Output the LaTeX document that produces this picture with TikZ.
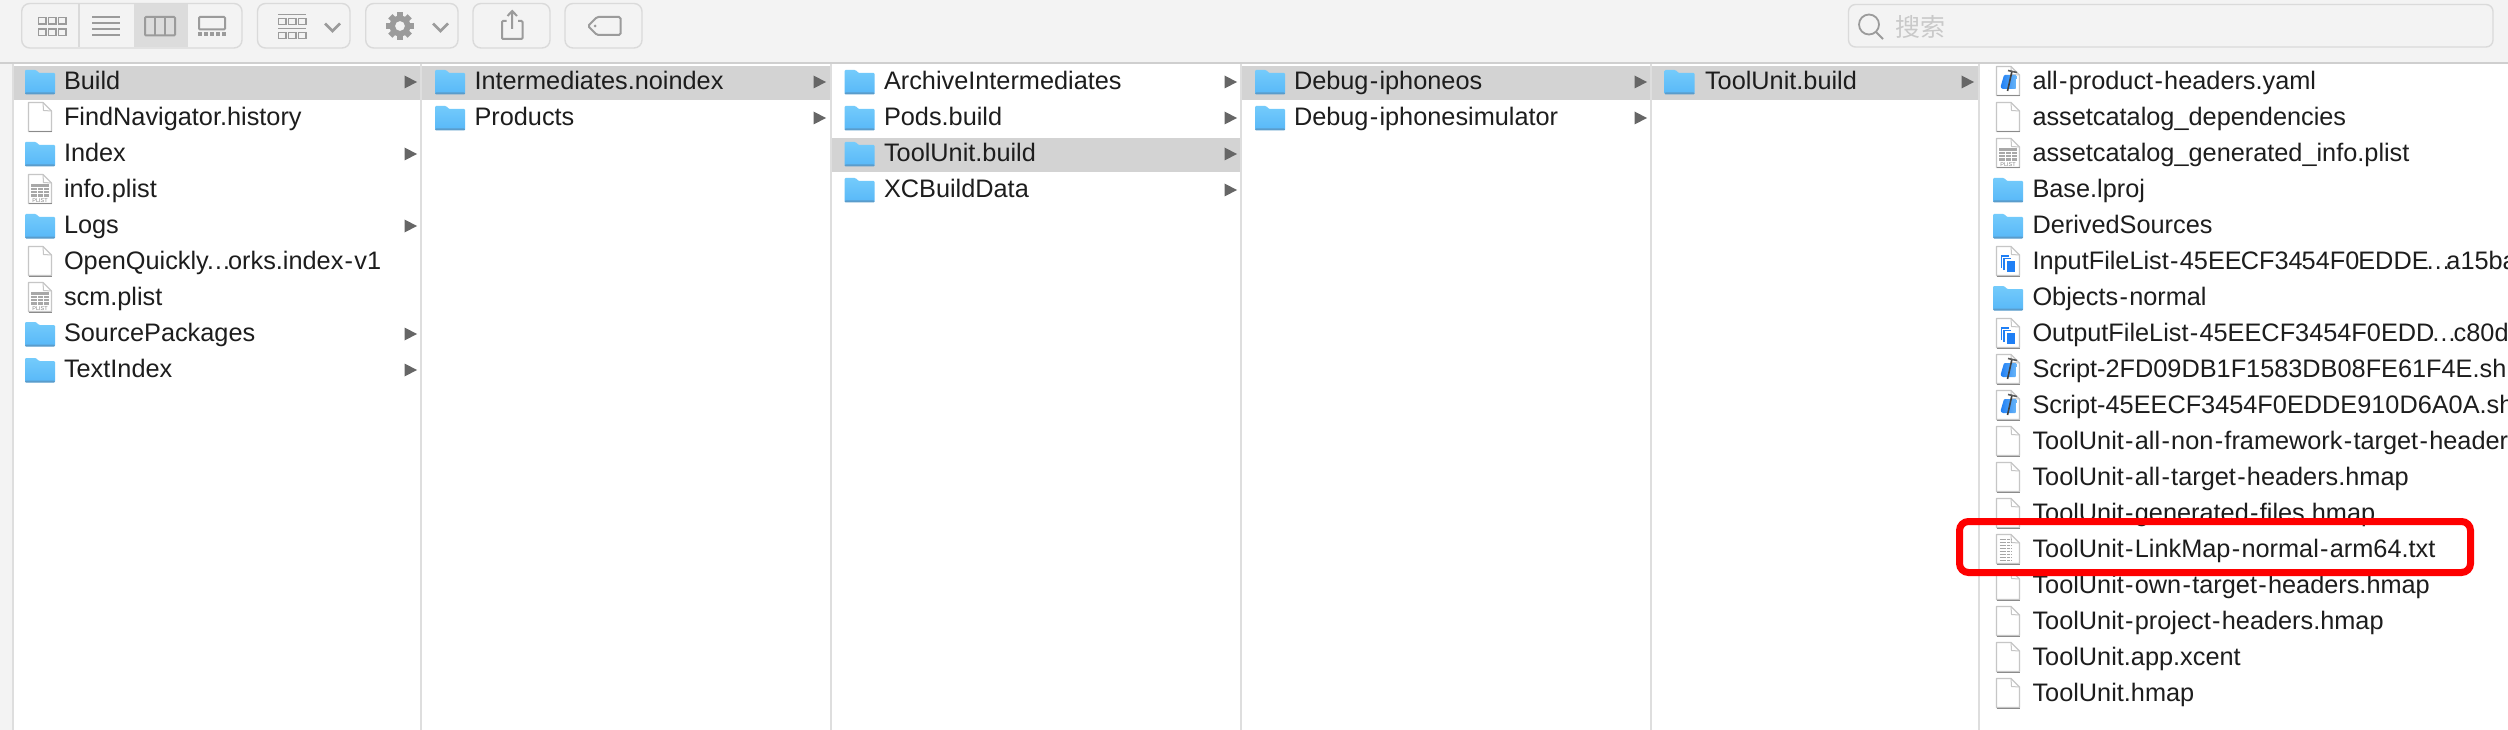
\documentclass[tikz,border=0pt]{standalone}
\usepackage{fontspec}
\setmainfont{Liberation Sans}
\newfontfamily\cjkf{Noto Sans CJK SC}
\definecolor{barbg}{HTML}{F3F3F3}
\definecolor{barline}{HTML}{CFCFCF}
\definecolor{btnline}{HTML}{DADADA}
\definecolor{seldark}{HTML}{DCDCDC}
\definecolor{icong}{HTML}{9B9B9B}
\definecolor{rowsel}{HTML}{D3D3D3}
\definecolor{colsep}{HTML}{DEDEDE}
\definecolor{txt}{HTML}{1D1D1D}
\definecolor{arr}{HTML}{666666}
\definecolor{foldtop}{HTML}{74CBFB}
\definecolor{foldbot}{HTML}{58B8F8}
\definecolor{foldedge}{HTML}{5A9CCB}
\definecolor{fileline}{HTML}{C6C6C6}
\definecolor{srchtxt}{HTML}{C9C9C9}
\definecolor{blue1}{HTML}{1F7FF5}
\definecolor{blue2}{HTML}{6DB8F8}
\definecolor{plistg}{HTML}{A8A8A8}
\definecolor{frame}{HTML}{FE0000}
\newcommand{\hy}{\kern1.3pt-\kern1.3pt}
\newcommand{\el}{\kern-3pt…\kern-3pt}
\tikzset{
  lbl/.style={anchor=base west,inner sep=0pt,outer sep=0pt,text=txt,font=\fontsize{25.3}{30}\selectfont},
  btn/.style={draw=btnline,line width=1.4pt,fill=barbg,rounded corners=8pt},
  ico/.style={draw=icong,line width=2pt,fill=none},
  icofill/.style={fill=icong,draw=none},
  sepline/.style={draw=colsep,line width=2pt},
  filebody/.style={draw=fileline,line width=1.2pt,fill=white,line join=round},
}
\newcommand{\RowY}[1]{\pgfmathsetmacro\ry{82+36*(#1)}}
\newcommand{\FolderIcon}[2]{%
  \begin{scope}[shift={(#1,#2)}]
    \path[top color=foldtop,bottom color=foldbot,rounded corners=1pt] (0,-9) -- (0,-12) -- (11,-12) -- (14,-9) -- (30,-9) -- (30,12) -- (0,12) -- cycle;
    \fill[foldedge,rounded corners=1pt] (0,10.5) rectangle (30,12.5);
  \end{scope}}
\newcommand{\FileIcon}[2]{%
  \begin{scope}[shift={(#1,#2)}]
    \path[filebody] (0.5,-15.5) -- (15,-15.5) -- (23.5,-7) -- (23.5,13.5) -- (0.5,13.5) -- cycle;
    \draw[fileline,line width=1pt] (15,-15.5) -- (15.5,-7.5) -- (23.5,-7);
    \draw[fileline!70!black,line width=1pt] (0.5,14) -- (23.5,14);
  \end{scope}}
\newcommand{\PlistMark}[2]{%
  \begin{scope}[shift={(#1,#2)}]
    \fill[plistg] (3,-6) rectangle (21,7);
    \foreach \yy in {-3,0,3}{\draw[white,line width=.8pt] (3,\yy) -- (21,\yy);}
    \draw[white,line width=.8pt] (9,-3) -- (9,7) (15,-3) -- (15,7);
    \node[inner sep=0pt,text=gray,font=\fontsize{5.5}{6}\selectfont] at (12,10.5) {PLIST};
  \end{scope}}
\newcommand{\XcodeMark}[2]{%
  \begin{scope}[shift={(#1,#2)}]
    \path[left color=blue1,right color=blue2,rounded corners=1pt] (4.5,5) -- (8,-7) -- (21,-7) -- (20,7) -- (6,7) -- cycle;
    \draw[black!75,line width=1.6pt] (11.5,9) -- (16,-11);
    \draw[black!65,line width=1.6pt] (12,-11.5) -- (21,-9.5);
  \end{scope}}
\newcommand{\ListMark}[2]{%
  \begin{scope}[shift={(#1,#2)}]
    \draw[blue1,line width=1.1pt] (5.5,6) -- (5.5,-6) -- (13,-6);
    \draw[blue1,line width=1.1pt] (8,8) -- (8,-3.5) -- (15,-3.5);
    \fill[blue1] (10.5,-1.5) rectangle (18.5,10);
  \end{scope}}
\newcommand{\TextMark}[2]{%
  \begin{scope}[shift={(#1,#2)}]
    \foreach \yy in {-11,-8,-5,-2,1,4,7,10}{\draw[gray!70,line width=.9pt,dash pattern=on 3pt off .8pt] (3.5,\yy) -- (15,\yy);}
  \end{scope}}
% #1 name, #2 icon x, #3 text x, #4 row, #5 text
\newcommand{\Fo}[5]{\RowY{#4}\FolderIcon{#2}{\ry}\node[lbl] (#1) at (#3,\ry+7.5) {#5};}
\newcommand{\Bl}[5]{\RowY{#4}\FileIcon{#2}{\ry}\node[lbl] (#1) at (#3,\ry+7.5) {#5};}
\newcommand{\Pl}[5]{\RowY{#4}\FileIcon{#2}{\ry}\PlistMark{#2}{\ry}\node[lbl] (#1) at (#3,\ry+7.5) {#5};}
\newcommand{\Xc}[5]{\RowY{#4}\FileIcon{#2}{\ry}\XcodeMark{#2}{\ry}\node[lbl] (#1) at (#3,\ry+7.5) {#5};}
\newcommand{\Fl}[5]{\RowY{#4}\FileIcon{#2}{\ry}\ListMark{#2}{\ry}\node[lbl] (#1) at (#3,\ry+7.5) {#5};}
\newcommand{\Tx}[5]{\RowY{#4}\FileIcon{#2}{\ry}\TextMark{#2}{\ry}\node[lbl] (#1) at (#3,\ry+7.5) {#5};}
\newcommand{\Ar}[2]{\RowY{#2}\fill[arr] (#1-12.5,\ry-6.5) -- (#1,\ry) -- (#1-12.5,\ry+6.5) -- cycle;}
\newcommand{\Sel}[3]{\RowY{#3}\fill[rowsel] (#1,\ry-16) rectangle (#2,\ry+18);}
\newcommand{\Chev}[1]{\draw[icong,line width=2.6pt] (#1,23.5) -- (#1+7.5,31) -- (#1+15,23.5);}
\newcommand{\MiniGrid}[3]{\foreach \xx in {0,1,2}{\draw[icong,line width=1.6pt] (#1+\xx*10,#2) rectangle ++(7.4,#3);}}
\begin{document}
\begin{tikzpicture}[x=1pt,y=-1pt]
\useasboundingbox (0,0) rectangle (2508,730);
% window
\fill[white] (0,0) rectangle (2508,730);
\fill[barbg] (0,0) rectangle (2508,63);
\fill[barbg] (0,63) rectangle (13,730);
% selected rows
\Sel{13}{421}{0}
\Sel{421}{831}{0}
\Sel{831}{1241}{2}
\Sel{1241}{1651}{0}
\Sel{1651}{1979}{0}
% column rules
\foreach \cx in {13,421,831,1241,1651,1979}{\draw[sepline] (\cx,64) -- (\cx,730);}
\draw[barline,line width=1.6pt] (0,63) -- (2508,63);
% toolbar: view switcher
\path[btn] (21.7,3.5) rectangle (242,48);
\fill[seldark] (134,4.2) rectangle (188,47.3);
\draw[btnline,line width=1.6pt] (79,4) -- (79,47.5);
\MiniGrid{38.5}{17.5}{6.5}
\MiniGrid{38.5}{29}{6.5}
\foreach \yy in {17,23,29,35}{\draw[icong,line width=1.6pt] (92,\yy) -- (120,\yy);}
\draw[ico,rounded corners=1pt] (145,17) rectangle (175,35.5);
\draw[ico] (155,17) -- (155,35.5) (165,17) -- (165,35.5);
\draw[ico,rounded corners=1pt] (199,17) rectangle (225,29.5);
\foreach \xx in {198,204,210,216,222}{\fill[icong] (\xx,32.5) rectangle ++(4,3.5);}
% toolbar: arrange
\path[btn] (257.5,3.5) rectangle (350,48);
\draw[icong,line width=1.8pt] (278,14.5) -- (306,14.5) (278,28.5) -- (306,28.5);
\MiniGrid{278.5}{18.5}{6}
\MiniGrid{278.5}{32.5}{6}
\Chev{325}
% toolbar: action
\path[btn] (365.7,3.5) rectangle (458,48);
\path[icofill,even odd rule] (400,26) circle[radius=5]
  (400,26) circle[radius=10.5];
\foreach \aa in {0,45,...,315}{\fill[icong,rotate around={\aa:(400,26)}] (397,12.3) rectangle (403,18);}
\Chev{433}
% toolbar: share
\path[btn] (473,3.5) rectangle (550,48);
\draw[ico,rounded corners=1pt] (506.5,21) -- (502,21) -- (502,39) -- (522.5,39) -- (522.5,21) -- (518,21);
\draw[ico] (512.2,29) -- (512.2,11) (507.5,16) -- (512.2,11) -- (517,16);
% toolbar: tags
\path[btn] (565,3.5) rectangle (642,48);
\draw[ico,rounded corners=1.5pt] (597,17) -- (620.5,17) -- (620.5,35) -- (597,35) -- (588,26) -- cycle;
\fill[icong] (595,26) circle[radius=1.5];
% toolbar: search
\path[draw=btnline,line width=1.4pt,fill=barbg,rounded corners=7pt] (1848.5,4.5) rectangle (2493,47);
\draw[icong,line width=1.8pt] (1869,24.5) circle[radius=10];
\draw[icong,line width=2pt] (1876,32) -- (1883,39);
\node[inner sep=0pt,text=srchtxt,font=\cjkf\fontsize{25}{30}\selectfont,anchor=west] (search) at (1895,27) {搜索};
% column 0
\Fo{cza}{25}{64}{0}{Build}
\Bl{czb}{28}{64}{1}{FindNavigator.history}
\Fo{czc}{25}{64}{2}{Index}
\Pl{czd}{28}{64}{3}{info.plist}
\Fo{cze}{25}{64}{4}{Logs}
\Bl{czf}{28}{64}{5}{OpenQuickly\el orks.index\hy v1}
\Pl{czg}{28}{64}{6}{scm.plist}
\Fo{czh}{25}{64}{7}{SourcePackages}
\Fo{czi}{25}{64}{8}{TextIndex}
\foreach \rr in {0,2,4,7,8}{\Ar{417}{\rr}}
% column 1
\Fo{coa}{435}{474.5}{0}{Intermediates.noindex}
\Fo{cob}{435}{474.5}{1}{Products}
\foreach \rr in {0,1}{\Ar{826}{\rr}}
% column 2
\Fo{cta}{844.5}{884}{0}{ArchiveIntermediates}
\Fo{ctb}{844.5}{884}{1}{Pods.build}
\Fo{ctc}{844.5}{884}{2}{ToolUnit.build}
\Fo{ctd}{844.5}{884}{3}{XCBuildData}
\foreach \rr in {0,1,2,3}{\Ar{1237}{\rr}}
% column 3
\Fo{cha}{1255}{1294}{0}{Debug\hy iphoneos}
\Fo{chb}{1255}{1294}{1}{Debug\hy iphonesimulator}
\foreach \rr in {0,1}{\Ar{1647}{\rr}}
% column 4
\Fo{cfa}{1664.5}{1705}{0}{ToolUnit.build}
\Ar{1974}{0}
% column 5
\begin{scope}
\clip (1980,64) rectangle (2508,730);
\Xc{cva}{1996}{2032.5}{0}{all\hy product\hy headers.yaml}
\Bl{cvb}{1996}{2032.5}{1}{assetcatalog\_dependencies}
\Pl{cvc}{1996}{2032.5}{2}{assetcatalog\_generated\_info.plist}
\Fo{cvd}{1993}{2032.5}{3}{Base.lproj}
\Fo{cve}{1993}{2032.5}{4}{DerivedSources}
\Fl{cvf}{1996}{2032.5}{5}{InputFileList\hy 45EE\kern-1pt CF34\kern-1pt 54F0\kern-1pt EDDE\el\kern-1.5pt a15ba}
\Fo{cvg}{1993}{2032.5}{6}{Objects\hy normal}
\Fl{cvh}{1996}{2032.5}{7}{OutputFileList\hy 45EECF3454F0EDD\el c80d}
\Xc{cvi}{1996}{2032.5}{8}{Script-2FD09DB1F1583DB08FE61F4E.sh}
\Xc{cvj}{1996}{2032.5}{9}{Script-45EECF3454F0EDDE910D6A0A.sh}
\Bl{cvk}{1996}{2032.5}{10}{ToolUnit\hy all\hy non\hy framework\hy target\hy header}
\Bl{cvl}{1996}{2032.5}{11}{ToolUnit\hy all\hy target\hy headers.hmap}
\Bl{cvm}{1996}{2032.5}{12}{ToolUnit\hy generated\hy files.hmap}
\Tx{cvn}{1996}{2032.5}{13}{ToolUnit\hy LinkMap\hy normal\hy arm64.txt}
\Bl{cvo}{1996}{2032.5}{14}{ToolUnit\hy own\hy target\hy headers.hmap}
\Bl{cvp}{1996}{2032.5}{15}{ToolUnit\hy project\hy headers.hmap}
\Bl{cvq}{1996}{2032.5}{16}{ToolUnit.app.xcent}
\Bl{cvr}{1996}{2032.5}{17}{ToolUnit.hmap}
\end{scope}
% highlight frame
\draw[frame,line width=7pt,rounded corners=9pt] (1959.5,521.5) rectangle (2470.5,572.5);
\end{tikzpicture}
\end{document}
